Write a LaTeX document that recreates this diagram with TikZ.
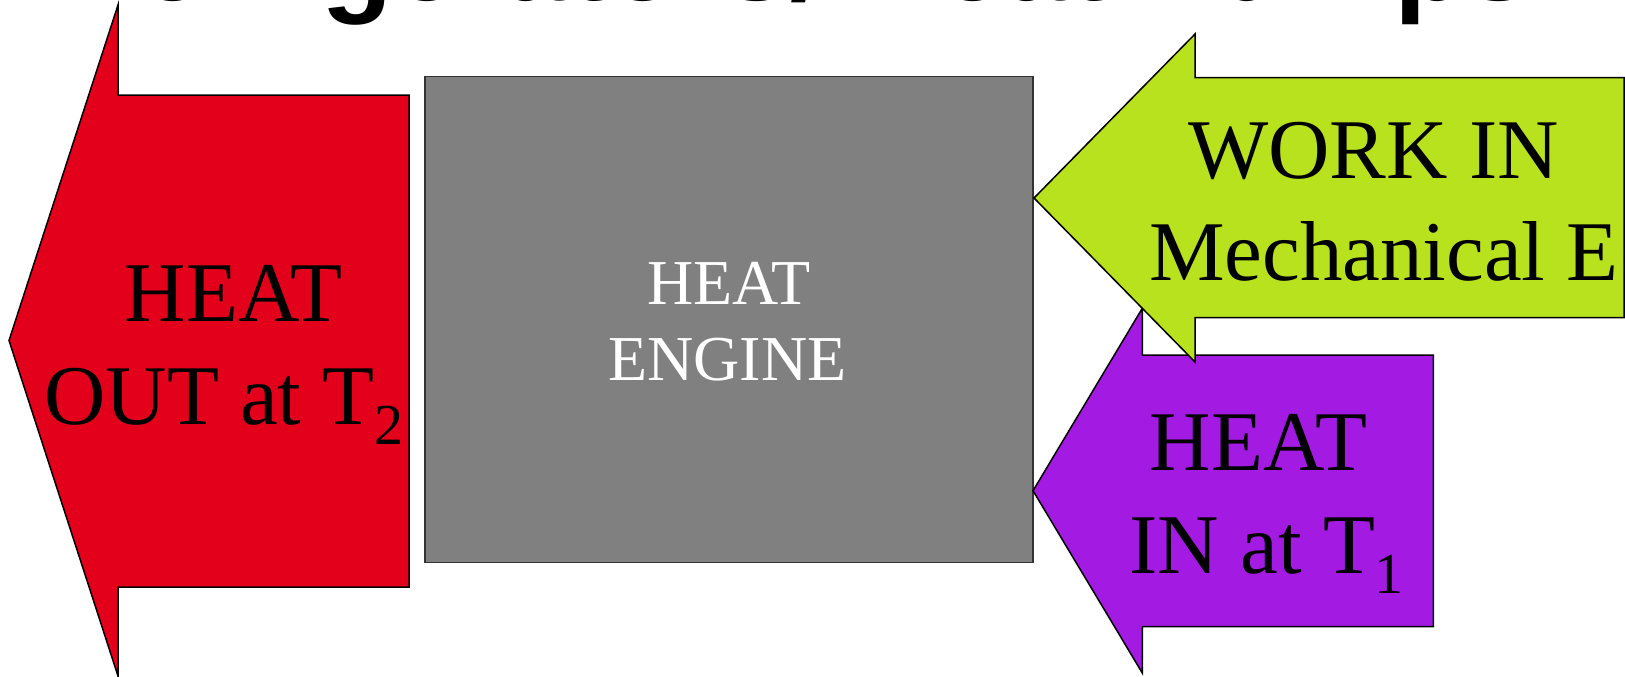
\documentclass[tikz,border=0pt]{standalone}
\usepackage{fontspec}
\setmainfont{Liberation Serif}
\newfontfamily\titlefont{Liberation Sans}
\definecolor{heatred}{RGB}{226,0,26}
\definecolor{workgreen}{RGB}{185,226,30}
\definecolor{heatpurple}{RGB}{163,27,226}
\definecolor{enginegray}{RGB}{128,128,128}
\newcommand\lowsub[1]{\raisebox{-10pt}{\fontsize{29pt}{29pt}\selectfont #1}}
\tikzset{
  arrowshape/.style={draw=black, line width=0.75pt, line join=miter},
  lbl/.style={anchor=base, inner sep=0pt, font=\fontsize{42.5pt}{51pt}\selectfont},
  englbl/.style={anchor=base, inner sep=0pt, text=white, font=\fontsize{32pt}{38pt}\selectfont},
}
\begin{document}
\begin{tikzpicture}[x=0.5pt,y=-0.5pt]
\useasboundingbox (0,0) rectangle (1625,676);
\clip (0,0) rectangle (1625,676);
% title (cut off at top)
\node[anchor=base west, inner sep=0pt, font=\titlefont\bfseries\fontsize{58.5pt}{60pt}\selectfont] (title) at (55,0.5) {Refrigerators/ Heat Pumps};
% red arrow
\draw[arrowshape, fill=heatred] (9,340.5) -- (118,5) -- (118,95) -- (409,95) -- (409,587) -- (118,587) -- (118,676) -- cycle;
% engine box
\draw[fill=enginegray, draw=black!80, line width=0.75pt] (425,76.7) rectangle (1033,562.6);
% purple arrow
\draw[arrowshape, fill=heatpurple] (1033,490.7) -- (1142.3,308.3) -- (1142.3,355) -- (1433.3,355) -- (1433.3,626.7) -- (1142.3,626.7) -- (1142.3,673) -- cycle;
% green arrow
\draw[arrowshape, fill=workgreen] (1034,198) -- (1195,34) -- (1195,77.7) -- (1624,77.7) -- (1624,317.7) -- (1195,317.7) -- (1195,362) -- cycle;
% labels
\node[lbl] (outA) at (233.3,321) {HEAT};
\node[lbl] (outB) at (224,424.6) {OUT at T\lowsub{2}};
\node[englbl] (engA) at (729.2,304) {HEAT};
\node[englbl] (engB) at (727.5,380) {ENGINE};
\node[lbl] (workA) at (1373.5,178.3) {WORK IN};
\node[lbl] (workB) at (1383.8,280) {Mechanical E};
\node[lbl] (inA) at (1258.3,470.7) {HEAT};
\node[lbl] (inB) at (1266.7,573.3) {IN at T\lowsub{1}};
\end{tikzpicture}
\end{document}
